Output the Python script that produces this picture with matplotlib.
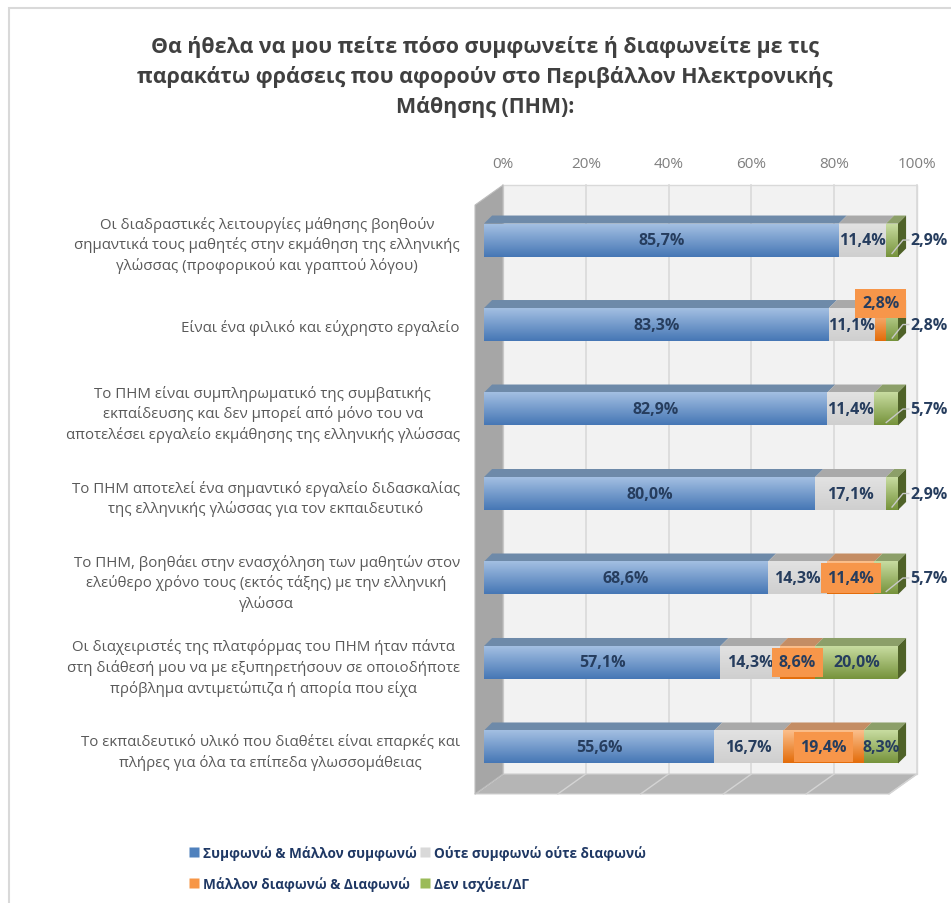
import numpy as np
import matplotlib.pyplot as plt
from matplotlib.patches import Polygon, Rectangle
from matplotlib.lines import Line2D
from matplotlib.colors import LinearSegmentedColormap

plt.rcParams['font.family'] = ['Open Sans', 'DejaVu Sans']

# survey statements (rows, top to bottom)
statements = [
    "Οι διαδραστικές λειτουργίες μάθησης βοηθούν\nσημαντικά τους μαθητές στην εκμάθηση της ελληνικής\nγλώσσας (προφορικού και γραπτού λόγου)",
    "Είναι ένα φιλικό και εύχρηστο εργαλείο",
    "Το ΠΗΜ είναι συμπληρωματικό της συμβατικής\nεκπαίδευσης και δεν μπορεί από μόνο του να\nαποτελέσει εργαλείο εκμάθησης της ελληνικής γλώσσας",
    "Το ΠΗΜ αποτελεί ένα σημαντικό εργαλείο διδασκαλίας\nτης ελληνικής γλώσσας για τον εκπαιδευτικό",
    "Το ΠΗΜ, βοηθάει στην ενασχόληση των μαθητών στον\nελεύθερο χρόνο τους (εκτός τάξης) με την ελληνική\nγλώσσα",
    "Οι διαχειριστές της πλατφόρμας του ΠΗΜ ήταν πάντα\nστη διάθεσή μου να με εξυπηρετήσουν σε οποιοδήποτε\nπρόβλημα αντιμετώπιζα ή απορία που είχα",
    "Το εκπαιδευτικό υλικό που διαθέτει είναι επαρκές και\nπλήρες για όλα τα επίπεδα γλωσσομάθειας",
]
agree = [85.7, 83.3, 82.9, 80.0, 68.6, 57.1, 55.6]
neutral = [11.4, 11.1, 11.4, 17.1, 14.3, 14.3, 16.7]
disagree = [0.0, 2.8, 0.0, 0.0, 11.4, 8.6, 19.4]
not_applicable = [2.9, 2.8, 5.7, 2.9, 5.7, 20.0, 8.3]
series_names = ["Συμφωνώ & Μάλλον συμφωνώ", "Ούτε συμφωνώ ούτε διαφωνώ",
                "Μάλλον διαφωνώ & Διαφωνώ", "Δεν ισχύει/ΔΓ"]
pct_ticks = [0, 20, 40, 60, 80, 100]
title = ("Θα ήθελα να μου πείτε πόσο συμφωνείτε ή διαφωνείτε με τις\n"
         "παρακάτω φράσεις που αφορούν στο Περιβάλλον Ηλεκτρονικής\n"
         "Μάθησης (ΠΗΜ):")

series = [agree, neutral, disagree, not_applicable]
# (front top, front bottom, top face, end face, legend)
palette = [
    ('#a3bfe2', '#4677b5', '#6e8aa9', '#3d5f8c', '#4f81bd'),
    ('#e2e2e2', '#cfcfcf', '#a9a9a9', '#8c8c8c', '#d9d9d9'),
    ('#fbbf8c', '#e36c0a', '#c48d64', '#a85510', '#f79646'),
    ('#c8dca0', '#76933c', '#8c9f69', '#4f6228', '#9bbb59'),
]
label_color = '#263d5e'

# 3-D box geometry in data units
BAR_H = 0.39
BAR_DX, BAR_DY = 1.95, -0.095
WALL_DX, WALL_DY = 6.76, -0.236
FLOOR_X0 = -2.17
FLOOR_Y = 6.556
WALL_TOP = -0.65

fig = plt.figure(figsize=(9.51, 9.04), dpi=100)
fig.patch.set_facecolor('white')
ax = fig.add_axes([466/951, (904-810)/904, (951-466)/951, (810-178)/904])
for s in ax.spines.values():
    s.set_visible(False)
ax.set_facecolor('none')

# back wall, floor and side wall
bx0 = FLOOR_X0 + WALL_DX
by1 = FLOOR_Y + WALL_DY
ax.add_patch(Rectangle((bx0, WALL_TOP), 100, by1 - WALL_TOP, facecolor='#f2f2f2',
                       edgecolor='#d9d9d9', lw=1, zorder=1))
for t in pct_ticks:
    ax.plot([bx0 + t, bx0 + t], [WALL_TOP, by1], color='#d9d9d9', lw=1.2, zorder=1.1)
ax.add_patch(Polygon([(FLOOR_X0, FLOOR_Y), (FLOOR_X0 + 100, FLOOR_Y),
                      (bx0 + 100, by1), (bx0, by1)], closed=True,
                     facecolor='#b5b5b5', edgecolor='#d0d0d0', lw=0.8, zorder=1.2))
for t in pct_ticks:
    ax.plot([FLOOR_X0 + t, bx0 + t], [FLOOR_Y, by1], color='#d4d4d4', lw=1, zorder=1.3)
ax.add_patch(Polygon([(FLOOR_X0, FLOOR_Y), (FLOOR_X0, WALL_TOP - WALL_DY),
                      (bx0, WALL_TOP), (bx0, by1)], closed=True,
                     facecolor='#a6a6a6', edgecolor='#bdbdbd', lw=0.8, zorder=1.4))

grad = np.linspace(0, 1, 64).reshape(-1, 1)


def fmt(v):
    return f"{v:.1f}".replace('.', ',') + '%'


for i in range(len(statements)):
    top = i - BAR_H / 2
    bot = i + BAR_H / 2
    left = 0.0
    vals = [s[i] for s in series]
    last = max(k for k, v in enumerate(vals) if v > 0)
    for k, v in enumerate(vals):
        if v <= 0:
            continue
        right = left + v
        c_top, c_bot, c_face, c_end, _ = palette[k]
        z = 3 + i * 0.1
        ax.add_patch(Polygon([(left, top), (right, top), (right + BAR_DX, top + BAR_DY),
                              (left + BAR_DX, top + BAR_DY)], closed=True,
                             facecolor=c_face, edgecolor='none', zorder=z))
        cmap = LinearSegmentedColormap.from_list(f'g{k}', [c_top, c_bot])
        ax.imshow(grad, extent=(left, right, bot, top), origin='upper', aspect='auto',
                  cmap=cmap, zorder=z + 0.01, interpolation='bilinear')
        if k == last:
            ax.add_patch(Polygon([(right, top), (right + BAR_DX, top + BAR_DY),
                                  (right + BAR_DX, bot + BAR_DY), (right, bot)], closed=True,
                                 facecolor=c_end, edgecolor='none', zorder=z + 0.02))
        # value label
        cx = (left + right) / 2
        kw = dict(fontsize=11.5, fontweight='bold', color=label_color, zorder=10)
        if k == 2:
            box = dict(boxstyle='square,pad=0.42', facecolor='#f7964a', edgecolor='none')
            ty = i - 0.25 if v < 6 else i
            ax.text(cx, ty, fmt(v), ha='center', va='center', bbox=box, **kw)
        elif k == 3 and v < 6:
            ax.plot([cx, right + 1.2, right + 2.6], [i + 0.16, i, i], color='#c8c8c8',
                    lw=1, zorder=9)
            ax.text(right + 2.9, i, fmt(v), ha='left', va='center', clip_on=False, **kw)
        else:
            ax.text(cx, i, fmt(v), ha='center', va='center', **kw)
        left = right

ax.set_xlim(-4.35, 112.8)
ax.set_ylim(6.734, -0.746)

# percent scale along the back wall
ax.xaxis.tick_top()
ax.set_xticks([bx0 + t for t in pct_ticks], [f"{t}%" for t in pct_ticks])
ax.tick_params(axis='x', length=0, pad=4, labelsize=11, labelcolor='#7f7f7f')
ax.set_yticks(range(len(statements)), statements)
ax.tick_params(axis='y', length=0, pad=4.5, labelsize=10.8, labelcolor='#595959')
for lab in ax.get_yticklabels():
    lab.set_multialignment('center')
    lab.set_linespacing(1.4)

fig.text(485/951, 1 - 77/904, title, ha='center', va='center', fontsize=15.4,
         fontweight='bold', color='#404040', linespacing=1.45)

# chart border
fig.add_artist(Rectangle((9/951, -0.1), 1.2, 1 - 9/904 + 0.1, transform=fig.transFigure,
                         facecolor='none', edgecolor='#d9d9d9', lw=1.5))

handles = [Line2D([], [], marker='s', ls='none', markersize=7,
                  markerfacecolor=palette[k][4], markeredgecolor='none') for k in range(4)]
order = [0, 2, 1, 3]
leg = fig.legend([handles[k] for k in order], [series_names[k] for k in order],
                 ncol=2, loc='center left', bbox_to_anchor=(178/951, 1 - 869/904),
                 frameon=False, handlelength=0.6, handletextpad=0.35, columnspacing=0.3,
                 labelspacing=1.15, prop={'weight': 'bold', 'size': 9.8})
for t in leg.get_texts():
    t.set_color('#1f3864')

fig.savefig('out.png', dpi=100)
